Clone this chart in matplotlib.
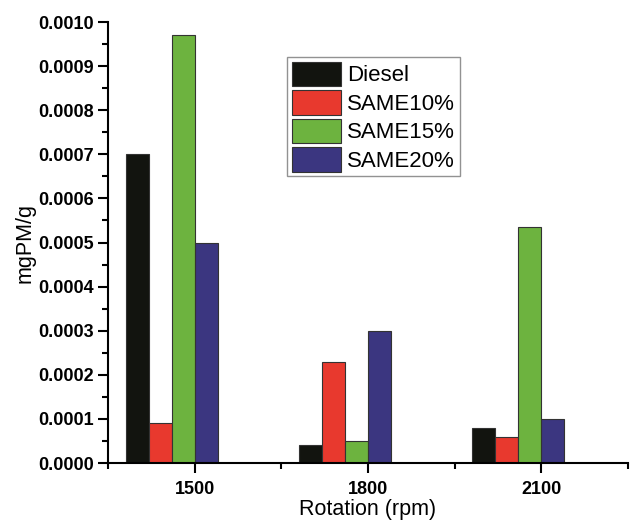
import numpy as np
import matplotlib.pyplot as plt
from matplotlib.ticker import MultipleLocator, FixedLocator

plt.rcParams['font.family'] = ['Liberation Sans', 'DejaVu Sans']

rotations = ['1500', '1800', '2100']
series = ['Diesel', 'SAME10%', 'SAME15%', 'SAME20%']
diesel = [0.00070, 0.00004, 0.00008]
same10 = [0.00009, 0.00023, 0.00006]
same15 = [0.00097, 0.00005, 0.000535]
same20 = [0.00050, 0.00030, 0.00010]
colors = ['#12140f', '#e8392e', '#6db33f', '#3b3680']

fig = plt.figure(figsize=(6.32, 5.24), dpi=100)
ax = fig.add_axes([0.1709, 0.1164, 0.8228, 0.8416])

x = np.arange(1, len(rotations) + 1)
w = 0.133
for i, (name, vals) in enumerate(zip(series, [diesel, same10, same15, same20])):
    ax.bar(x + (i - 3) * w, vals, w, align='edge', color=colors[i],
           edgecolor='#333333', linewidth=0.8, label=name)

ax.set_xlim(0.5, 3.5)
ax.set_ylim(0, 0.0010)
ax.set_xticks(x)
ax.set_xticklabels(rotations, fontweight='bold', fontsize=13)
ax.xaxis.set_minor_locator(FixedLocator([0.5, 1.5, 2.5, 3.5]))
ax.yaxis.set_major_locator(MultipleLocator(0.0001))
ax.yaxis.set_minor_locator(MultipleLocator(0.00005))
ax.set_yticklabels(['%.4f' % v for v in ax.get_yticks()], fontweight='bold', fontsize=13)

for s in ['top', 'right']:
    ax.spines[s].set_visible(False)
for s in ['left', 'bottom']:
    ax.spines[s].set_linewidth(1.5)
ax.tick_params(which='major', length=7, width=1.5, direction='out')
ax.tick_params(which='minor', length=4, width=1.5, direction='out')
ax.tick_params(axis='x', pad=6)
ax.tick_params(axis='y', pad=3)

ax.set_xlabel('Rotation (rpm)', fontsize=15.5, labelpad=1)
ax.set_ylabel('mgPM/g', fontsize=15.5, labelpad=2)

leg = ax.legend(loc='upper left', bbox_to_anchor=(0.345, 0.92), fontsize=16,
                frameon=True, fancybox=False, edgecolor='#777777',
                handlelength=2.2, handleheight=1.3, handletextpad=0.3,
                labelspacing=0.18, borderpad=0.2, borderaxespad=0)
leg.get_frame().set_linewidth(1.0)

fig.savefig('out.png', dpi=100)
